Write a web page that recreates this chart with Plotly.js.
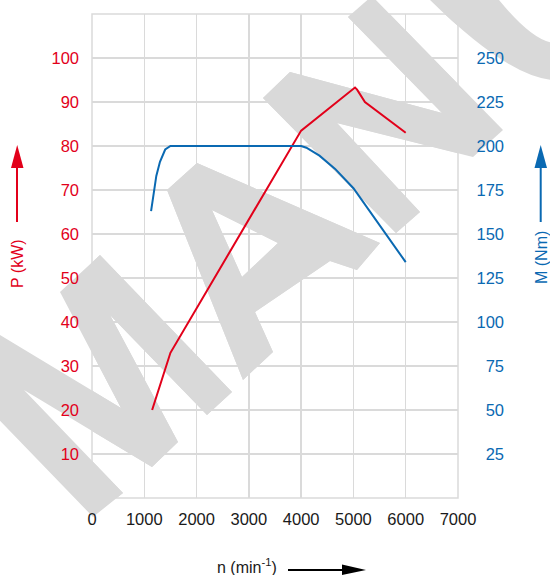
<!DOCTYPE html>
<html><head><meta charset="utf-8">
<script src="https://cdn.plot.ly/plotly-3.0.1.min.js"></script>
<style>html,body{margin:0;padding:0;background:#fff}#chart{width:550px;height:575px}</style>
</head><body><div id="chart"></div>
<script>
// ---- data ----
const speedTicks  = [0, 1000, 2000, 3000, 4000, 5000, 6000, 7000];
const powerTicks  = [10, 20, 30, 40, 50, 60, 70, 80, 90, 100];
const torqueTicks = [25, 50, 75, 100, 125, 150, 175, 200, 225, 250];

const powerSpeed = [1150, 1500, 4000, 5030, 5070, 5170, 5220, 6000];
const powerKW    = [20, 33, 83.5, 93.3, 92.8, 90.8, 90, 83];

const torqueSpeed = [1130, 1170, 1230, 1300, 1400, 1500, 4000, 4100, 4350, 4650, 5000, 6000];
const torqueNm    = [163, 172, 183, 191, 198, 200, 200, 199, 194.5, 187, 176, 134];

// ---- styling / geometry ----
const W = 550, H = 575;
const PL = 92, PR = 458, PT = 14, PB = 498;
const XMAX = 7000, YMAX = 110;
const RED = '#e2001a', BLUE = '#0a69b2', GRID = '#dadada', WM = '#d9d9d9';
const FONT = 'Liberation Sans, Arial, Helvetica, sans-serif';

// decorative watermark outlines (pixel positions in the picture)
const wmM = [[93,517],[-20,400],[-20,323],[121,408],[60,292],[100,255],[232,392],[207,415],[110,315],[178,442],[152,467],[24,390],[123,493]];
const wmA = [[243,380],[167,190],[197,163],[380,243],[357,270],[330,261],[255,312],[273,352]];
const wmAhole = [[212,210],[242,277],[278,243]];
const wmN = [[263,98],[290,72],[442,113],[348,17],[372,-4],[503,130],[473,157],[337,123],[420,212],[396,233]];

// converters: pixel -> paper, pixel -> data (x, left y)
const toPaper = (x, y) => [(x / W).toFixed(5), (1 - y / H).toFixed(5)];
const toData  = (x, y) => [((x - PL) / (PR - PL) * XMAX).toFixed(2), ((PB - y) / (PB - PT) * YMAX).toFixed(3)];
function polyPath(pts, conv) { return pts.map((p, i) => (i ? 'L' : 'M') + conv(p[0], p[1]).join(',')).join(' ') + ' Z'; }
function curvePath(conv) {
  const c = (x, y) => conv(x, y).join(',');
  return 'M' + c(430, -5) + ' L' + c(495, -5) + ' Q' + c(533, 43) + ' ' + c(556, 43) +
         ' L' + c(556, 80) + ' Q' + c(510, 80) + ' ' + c(425, -5) + ' Z';
}
function wmPaths(conv) {
  return [polyPath(wmM, conv), polyPath(wmA, conv) + ' ' + polyPath(wmAhole, conv),
          polyPath(wmN, conv), curvePath(conv)];
}
const wmBelow = wmPaths(toPaper).map(p => ({type: 'path', xref: 'paper', yref: 'paper', layer: 'below',
  path: p, fillcolor: WM, line: {width: 0}}));
const wmBetween = wmPaths(toData).map(p => ({type: 'path', xref: 'x', yref: 'y', layer: 'between',
  path: p, fillcolor: WM, line: {width: 0}}));

const border = {type: 'rect', xref: 'paper', yref: 'paper', layer: 'below',
  x0: PL / W, x1: PR / W, y0: 1 - PB / H, y1: 1 - PT / H, line: {color: GRID, width: 1.5}};

// titles' arrows
const px2 = x => x / W, py2 = y => 1 - y / H;
function pline(x0, y0, x1, y1, c) {
  return {type: 'line', xref: 'paper', yref: 'paper', layer: 'above',
          x0: px2(x0), y0: py2(y0), x1: px2(x1), y1: py2(y1), line: {color: c, width: 2}};
}
function ptri(pts, c) {
  return {type: 'path', xref: 'paper', yref: 'paper', layer: 'above',
          path: polyPath(pts, toPaper), fillcolor: c, line: {width: 0}};
}

const traces = [
  {x: powerSpeed, y: powerKW, type: 'scatter', mode: 'lines', yaxis: 'y',
   line: {color: RED, width: 2}, name: 'P (kW)', hoverinfo: 'skip'},
  {x: torqueSpeed, y: torqueNm, type: 'scatter', mode: 'lines', yaxis: 'y2',
   line: {color: BLUE, width: 2}, name: 'M (Nm)', hoverinfo: 'skip'}
];

const layout = {
  width: W, height: H,
  margin: {l: 0, r: 0, t: 0, b: 0},
  paper_bgcolor: '#fff', plot_bgcolor: 'rgba(0,0,0,0)',
  showlegend: false,
  font: {family: FONT, size: 16},
  xaxis: {
    domain: [PL / W, PR / W], range: [0, XMAX], tickmode: 'array', tickvals: speedTicks,
    ticktext: speedTicks.map(String),
    showgrid: true, gridcolor: GRID, gridwidth: 1.5, zeroline: false, showline: false,
    ticks: '', ticklabelstandoff: 9, tickfont: {size: 16.5, color: '#1a1a1a', family: FONT}
  },
  yaxis: {
    domain: [1 - PB / H, 1 - PT / H], range: [0, YMAX], tickmode: 'array', tickvals: powerTicks,
    showgrid: true, gridcolor: GRID, gridwidth: 1.5, zeroline: false, showline: false,
    ticks: '', ticklabelstandoff: 12, tickfont: {size: 16.5, color: RED, family: FONT}
  },
  yaxis2: {
    overlaying: 'y', anchor: 'free', position: 504 / W, side: 'left',
    range: [0, 275], tickmode: 'array', tickvals: torqueTicks,
    showgrid: false, zeroline: false, showline: false, ticks: '',
    tickfont: {size: 16.5, color: BLUE, family: FONT}
  },
  annotations: [
    {text: 'P (kW)', xref: 'paper', yref: 'paper', x: px2(18), y: py2(264), textangle: -90,
     showarrow: false, xanchor: 'center', yanchor: 'middle', font: {size: 16, color: RED, family: FONT}},
    {text: 'M (Nm)', xref: 'paper', yref: 'paper', x: px2(541), y: py2(258), textangle: -90,
     showarrow: false, xanchor: 'center', yanchor: 'middle', font: {size: 16, color: BLUE, family: FONT}},
    {text: 'n (min<sup>-1</sup>)', xref: 'paper', yref: 'paper', x: px2(247), y: py2(566),
     showarrow: false, xanchor: 'center', yanchor: 'middle', font: {size: 16, color: '#1a1a1a', family: FONT}}
  ],
  shapes: [border].concat(wmBelow, wmBetween, [
    pline(17, 222, 17, 162, RED), ptri([[11, 168], [23.5, 168], [17.2, 145]], RED),
    pline(540.7, 222, 540.7, 162, BLUE), ptri([[534.5, 168], [547, 168], [540.7, 145]], BLUE),
    pline(288, 570, 346, 570, '#000'), ptri([[342, 564.5], [342, 575], [366, 570]], '#000')
  ])
};

Plotly.newPlot('chart', traces, layout, {staticPlot: true, displayModeBar: false});
</script></body></html>
